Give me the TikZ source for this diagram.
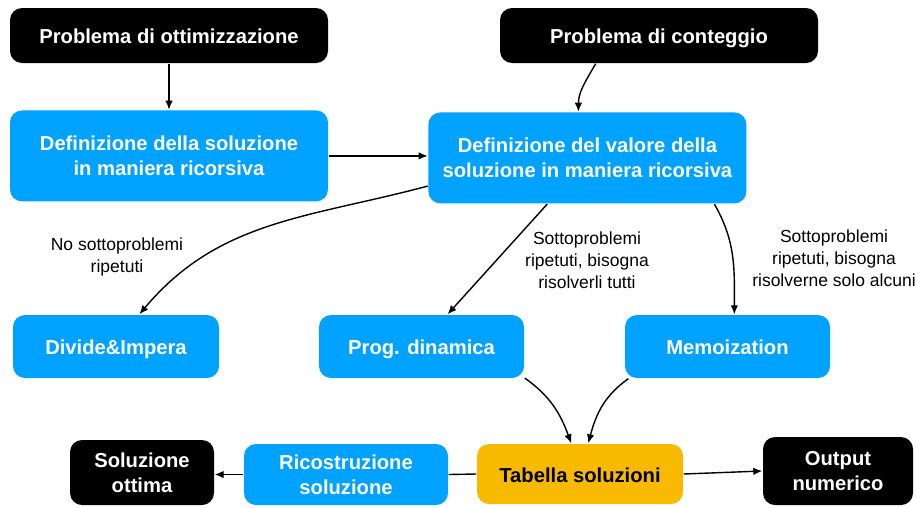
\documentclass[tikz,border=0pt]{standalone}
\usepackage{fontspec}
\setmainfont{Liberation Sans}
\usepackage{tikz}
\usetikzlibrary{arrows.meta,positioning}

\definecolor{keyblue}{HTML}{00A2FF}
\definecolor{keyyellow}{HTML}{F8BA00}

\tikzset{
  box/.style={rounded corners=12pt,align=center,inner sep=2pt,
    font=\bfseries\fontsize{20.2}{25}\selectfont},
  blk/.style={box,fill=black,text=white},
  blu/.style={box,fill=keyblue,text=white},
  ylw/.style={box,fill=keyyellow,text=black},
  oneline/.style={text height=16pt,text depth=0pt},
  lbl/.style={align=center,font=\fontsize{17.5}{22}\selectfont},
}

\begin{document}
\begin{tikzpicture}[x=1pt,y=-1pt,>={Latex[length=9pt,width=7.5pt]},line width=1.4pt,node distance=46pt]
\useasboundingbox (0,0) rectangle (917,507);

\node[blk,oneline,minimum width=318pt,minimum height=55pt] (ottim) at (169,35.5) {Problema di ottimizzazione};
\node[blk,oneline,minimum width=318pt,minimum height=55pt] (conteg) at (659,35.5) {Problema di conteggio};
\node[blu,minimum width=318pt,minimum height=91pt,below=of ottim] (defsol) {Definizione della soluzione\\in maniera ricorsiva};
\node[blu,minimum width=318pt,minimum height=91pt,right=99pt of defsol,yshift=-2pt] (defval) {Definizione del valore della\\soluzione in maniera ricorsiva};

\node[blu,oneline,minimum width=206pt,minimum height=63pt] (divide) at (116,346.5) {Divide\&Impera};
\node[blu,oneline,minimum width=205pt,minimum height=63pt] (progdin) at (421.5,346.5) {Prog. dinamica};
\node[blu,oneline,minimum width=205pt,minimum height=63pt] (memo) at (727.5,346.5) {Memoization};

\node[ylw,oneline,minimum width=206pt,minimum height=60pt] (tabella) at (580,474) {Tabella soluzioni};
\node[blu,minimum width=204pt,minimum height=61pt] (ricostr) at (346,474.5) {Ricostruzione\\soluzione};
\node[blk,minimum width=144pt,minimum height=65pt] (solott) at (142,472.5) {Soluzione\\ottima};
\node[blk,minimum width=150pt,minimum height=68pt] (output) at (838,471) {Output\\numerico};

% etichette
\node[lbl] (lblno) at (117,257) {No sottoproblemi\\ripetuti};
\node[lbl] (lbltutti) at (587,260) {Sottoproblemi\\ripetuti, bisogna\\risolverli tutti};
\node[lbl] (lblalcuni) at (834,258) {Sottoproblemi\\ripetuti, bisogna\\risolverne solo alcuni};

\path[->]
(ottim) edge (defsol)
(conteg.204) edge[out=-120,in=90] (defval.101)
(defsol.east) edge (defsol.east -| defval.west)
(defval.190) edge[out=195,in=50] (divide.54)
(defval.229) edge (progdin.51)
(defval.-20) edge[out=-60,in=90] (memo.78)
(progdin.-17) edge[out=-35,in=110] (tabella.106)
(memo.198) edge[out=-145,in=75] (tabella.75)
(ricostr.west) edge (ricostr.west -| solott.east)
(tabella.east) edge (output.west);
\draw (tabella.west) -- (ricostr.east);
\end{tikzpicture}
\end{document}
